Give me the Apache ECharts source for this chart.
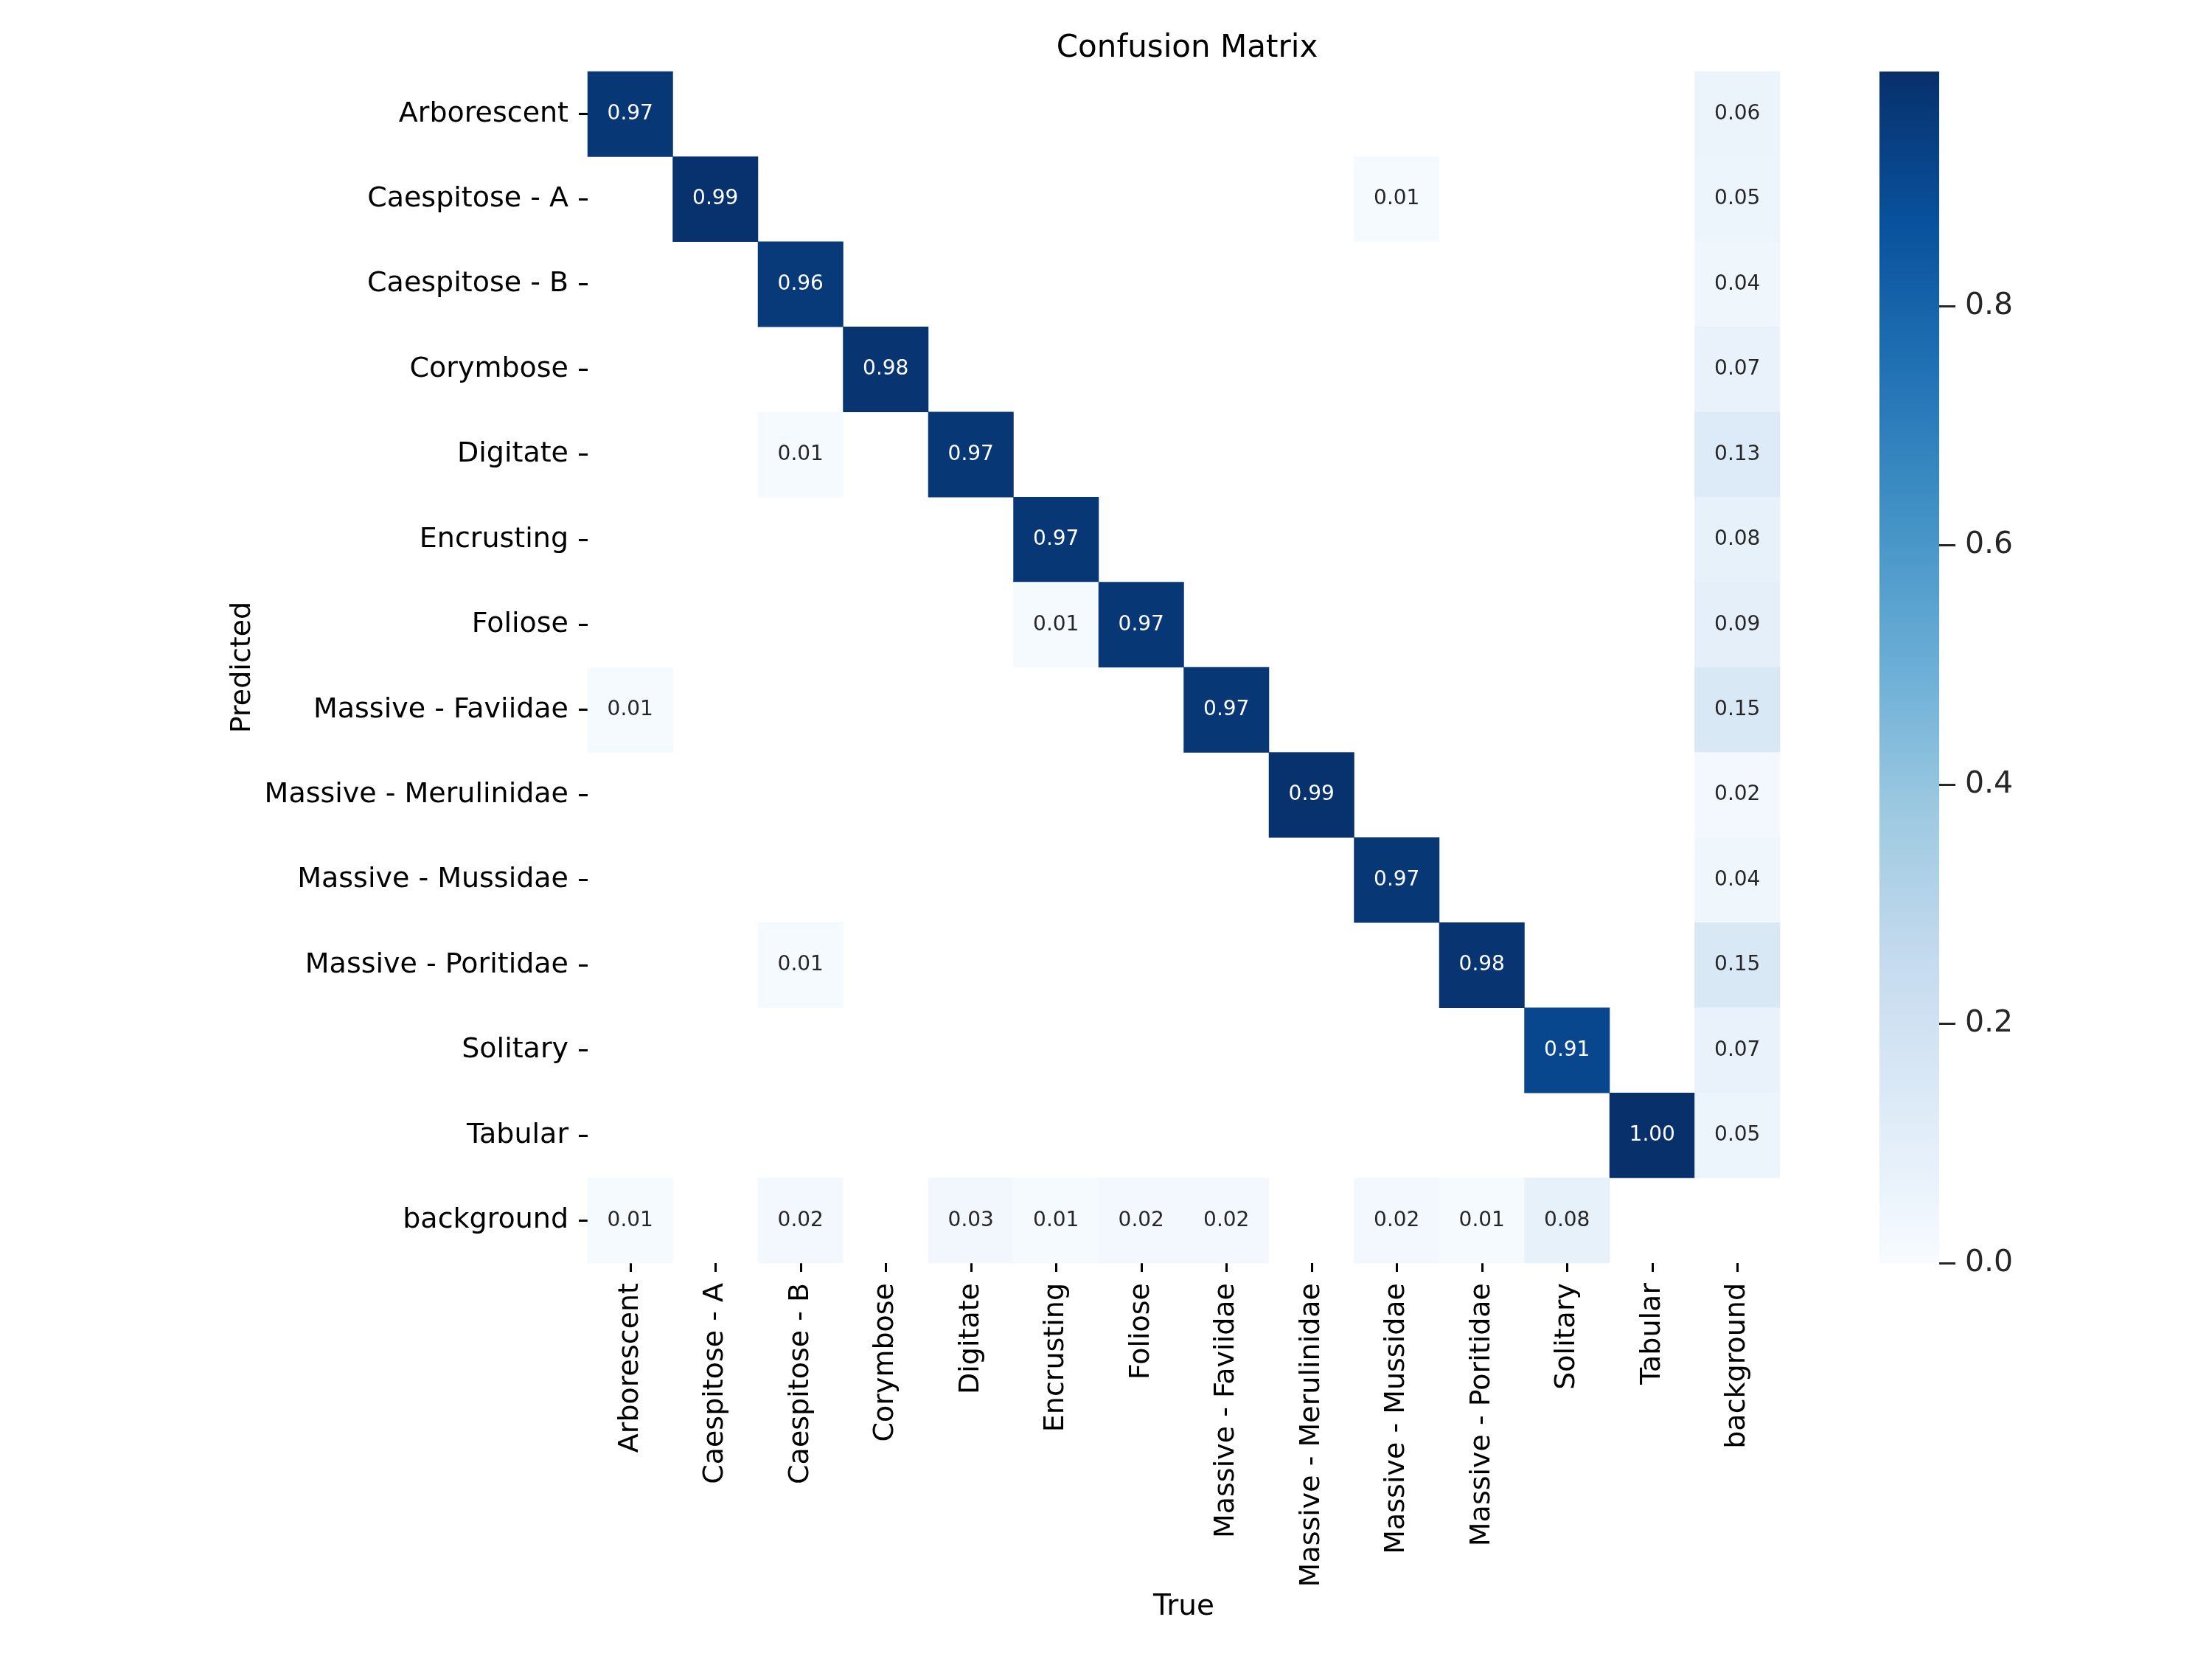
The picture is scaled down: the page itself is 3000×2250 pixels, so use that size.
<!DOCTYPE html>
<html>
<head>
<meta charset="utf-8">
<script src="https://cdn.jsdelivr.net/npm/echarts@6/dist/echarts.min.js"></script>
<style>html,body{margin:0;padding:0;background:#fff}#c{width:3000px;height:2250px}</style>
</head>
<body>
<div id="c"></div>
<script>
const categories = ['Arborescent','Caespitose - A','Caespitose - B','Corymbose','Digitate','Encrusting','Foliose','Massive - Faviidae','Massive - Merulinidae','Massive - Mussidae','Massive - Poritidae','Solitary','Tabular','background'];
// rows = Predicted, columns = True (0 = empty / masked)
const rowArborescent   = [0.97,0,0,0,0,0,0,0,0,0,0,0,0,0.06];
const rowCaespitoseA   = [0,0.99,0,0,0,0,0,0,0,0.01,0,0,0,0.05];
const rowCaespitoseB   = [0,0,0.96,0,0,0,0,0,0,0,0,0,0,0.04];
const rowCorymbose     = [0,0,0,0.98,0,0,0,0,0,0,0,0,0,0.07];
const rowDigitate      = [0,0,0.01,0,0.97,0,0,0,0,0,0,0,0,0.13];
const rowEncrusting    = [0,0,0,0,0,0.97,0,0,0,0,0,0,0,0.08];
const rowFoliose       = [0,0,0,0,0,0.01,0.97,0,0,0,0,0,0,0.09];
const rowFaviidae      = [0.01,0,0,0,0,0,0,0.97,0,0,0,0,0,0.15];
const rowMerulinidae   = [0,0,0,0,0,0,0,0,0.99,0,0,0,0,0.02];
const rowMussidae      = [0,0,0,0,0,0,0,0,0,0.97,0,0,0,0.04];
const rowPoritidae     = [0,0,0.01,0,0,0,0,0,0,0,0.98,0,0,0.15];
const rowSolitary      = [0,0,0,0,0,0,0,0,0,0,0,0.91,0,0.07];
const rowTabular       = [0,0,0,0,0,0,0,0,0,0,0,0,1.00,0.05];
const rowBackground    = [0.01,0,0.02,0,0.03,0.01,0.02,0.02,0,0.02,0.01,0.08,0,0];
const colorbarTicks = [0.0,0.2,0.4,0.6,0.8];
const colorMax = 0.996;

const rows = [rowArborescent,rowCaespitoseA,rowCaespitoseB,rowCorymbose,rowDigitate,rowEncrusting,rowFoliose,rowFaviidae,rowMerulinidae,rowMussidae,rowPoritidae,rowSolitary,rowTabular,rowBackground];
const blues = ['#f7fbff','#deebf7','#c6dbef','#9ecae1','#6baed6','#4292c6','#2171b5','#08519c','#08306b'];

const data = [];
rows.forEach((r, yi) => r.forEach((v, xi) => {
  if (v > 0) data.push({value:[xi, yi, v], label:{color: v > 0.5 ? '#ffffff' : '#262626'}});
}));

const FONT = 'DejaVu Sans';
const chart = echarts.init(document.getElementById('c'), null, {renderer:'canvas'});
const stops = blues.map((c,i)=>({offset: 1 - i/(blues.length-1), color: c}));
chart.setOption({
  animation:false,
  backgroundColor:'#ffffff',
  title:{text:'Confusion Matrix', left:1605, top:40, textAlign:'center',
    textStyle:{fontFamily:FONT, fontSize:42, fontWeight:'normal', color:'#000'}},
  grid:[
    {left:797, top:97, width:1617, height:1616},
    {left:2549, top:97, width:81, height:1616}
  ],
  xAxis:[
    {type:'category', data:categories, gridIndex:0, position:'bottom',
      name:'True', nameLocation:'middle', nameGap:424,
      nameTextStyle:{fontFamily:FONT, fontSize:39, color:'#000'},
      axisLine:{show:false}, splitLine:{show:false}, splitArea:{show:false},
      axisTick:{show:true, alignWithLabel:true, length:12, lineStyle:{color:'#000', width:3}},
      axisLabel:{rotate:90, margin:27, fontFamily:FONT, fontSize:38, color:'#000', interval:0}},
    {type:'category', data:['c'], gridIndex:1, show:false}
  ],
  yAxis:[
    {type:'category', data:categories, gridIndex:0, inverse:true,
      name:'Predicted', nameLocation:'middle', nameGap:406, nameRotate:90,
      nameTextStyle:{fontFamily:FONT, fontSize:38, color:'#000'},
      axisLine:{show:false}, splitLine:{show:false}, splitArea:{show:false},
      axisTick:{show:true, alignWithLabel:true, length:12, lineStyle:{color:'#000', width:3}},
      axisLabel:{margin:26, fontFamily:FONT, fontSize:38, color:'#000', interval:0}},
    {type:'value', gridIndex:1, min:0, max:colorMax, interval:0.2, position:'right',
      axisLine:{show:false}, splitLine:{show:false},
      axisTick:{show:true, length:22, lineStyle:{color:'#262626', width:3},
        customValues: colorbarTicks},
      axisLabel:{margin:35, fontFamily:FONT, fontSize:41, color:'#262626',
        customValues: colorbarTicks, formatter:(v)=>v.toFixed(1)}}
  ],
  visualMap:{show:false, type:'continuous', min:0, max:colorMax, seriesIndex:0, inRange:{color:blues}},
  series:[
    {type:'heatmap', xAxisIndex:0, yAxisIndex:0, data:data,
      label:{show:true, fontFamily:FONT, fontSize:28, formatter:(p)=>p.value[2].toFixed(2)},
      itemStyle:{borderWidth:0}},
    {type:'bar', xAxisIndex:1, yAxisIndex:1, data:[colorMax], barWidth:'100%', silent:true,
      itemStyle:{color:new echarts.graphic.LinearGradient(0,0,0,1, stops)}}
  ]
});
</script>
</body>
</html>
